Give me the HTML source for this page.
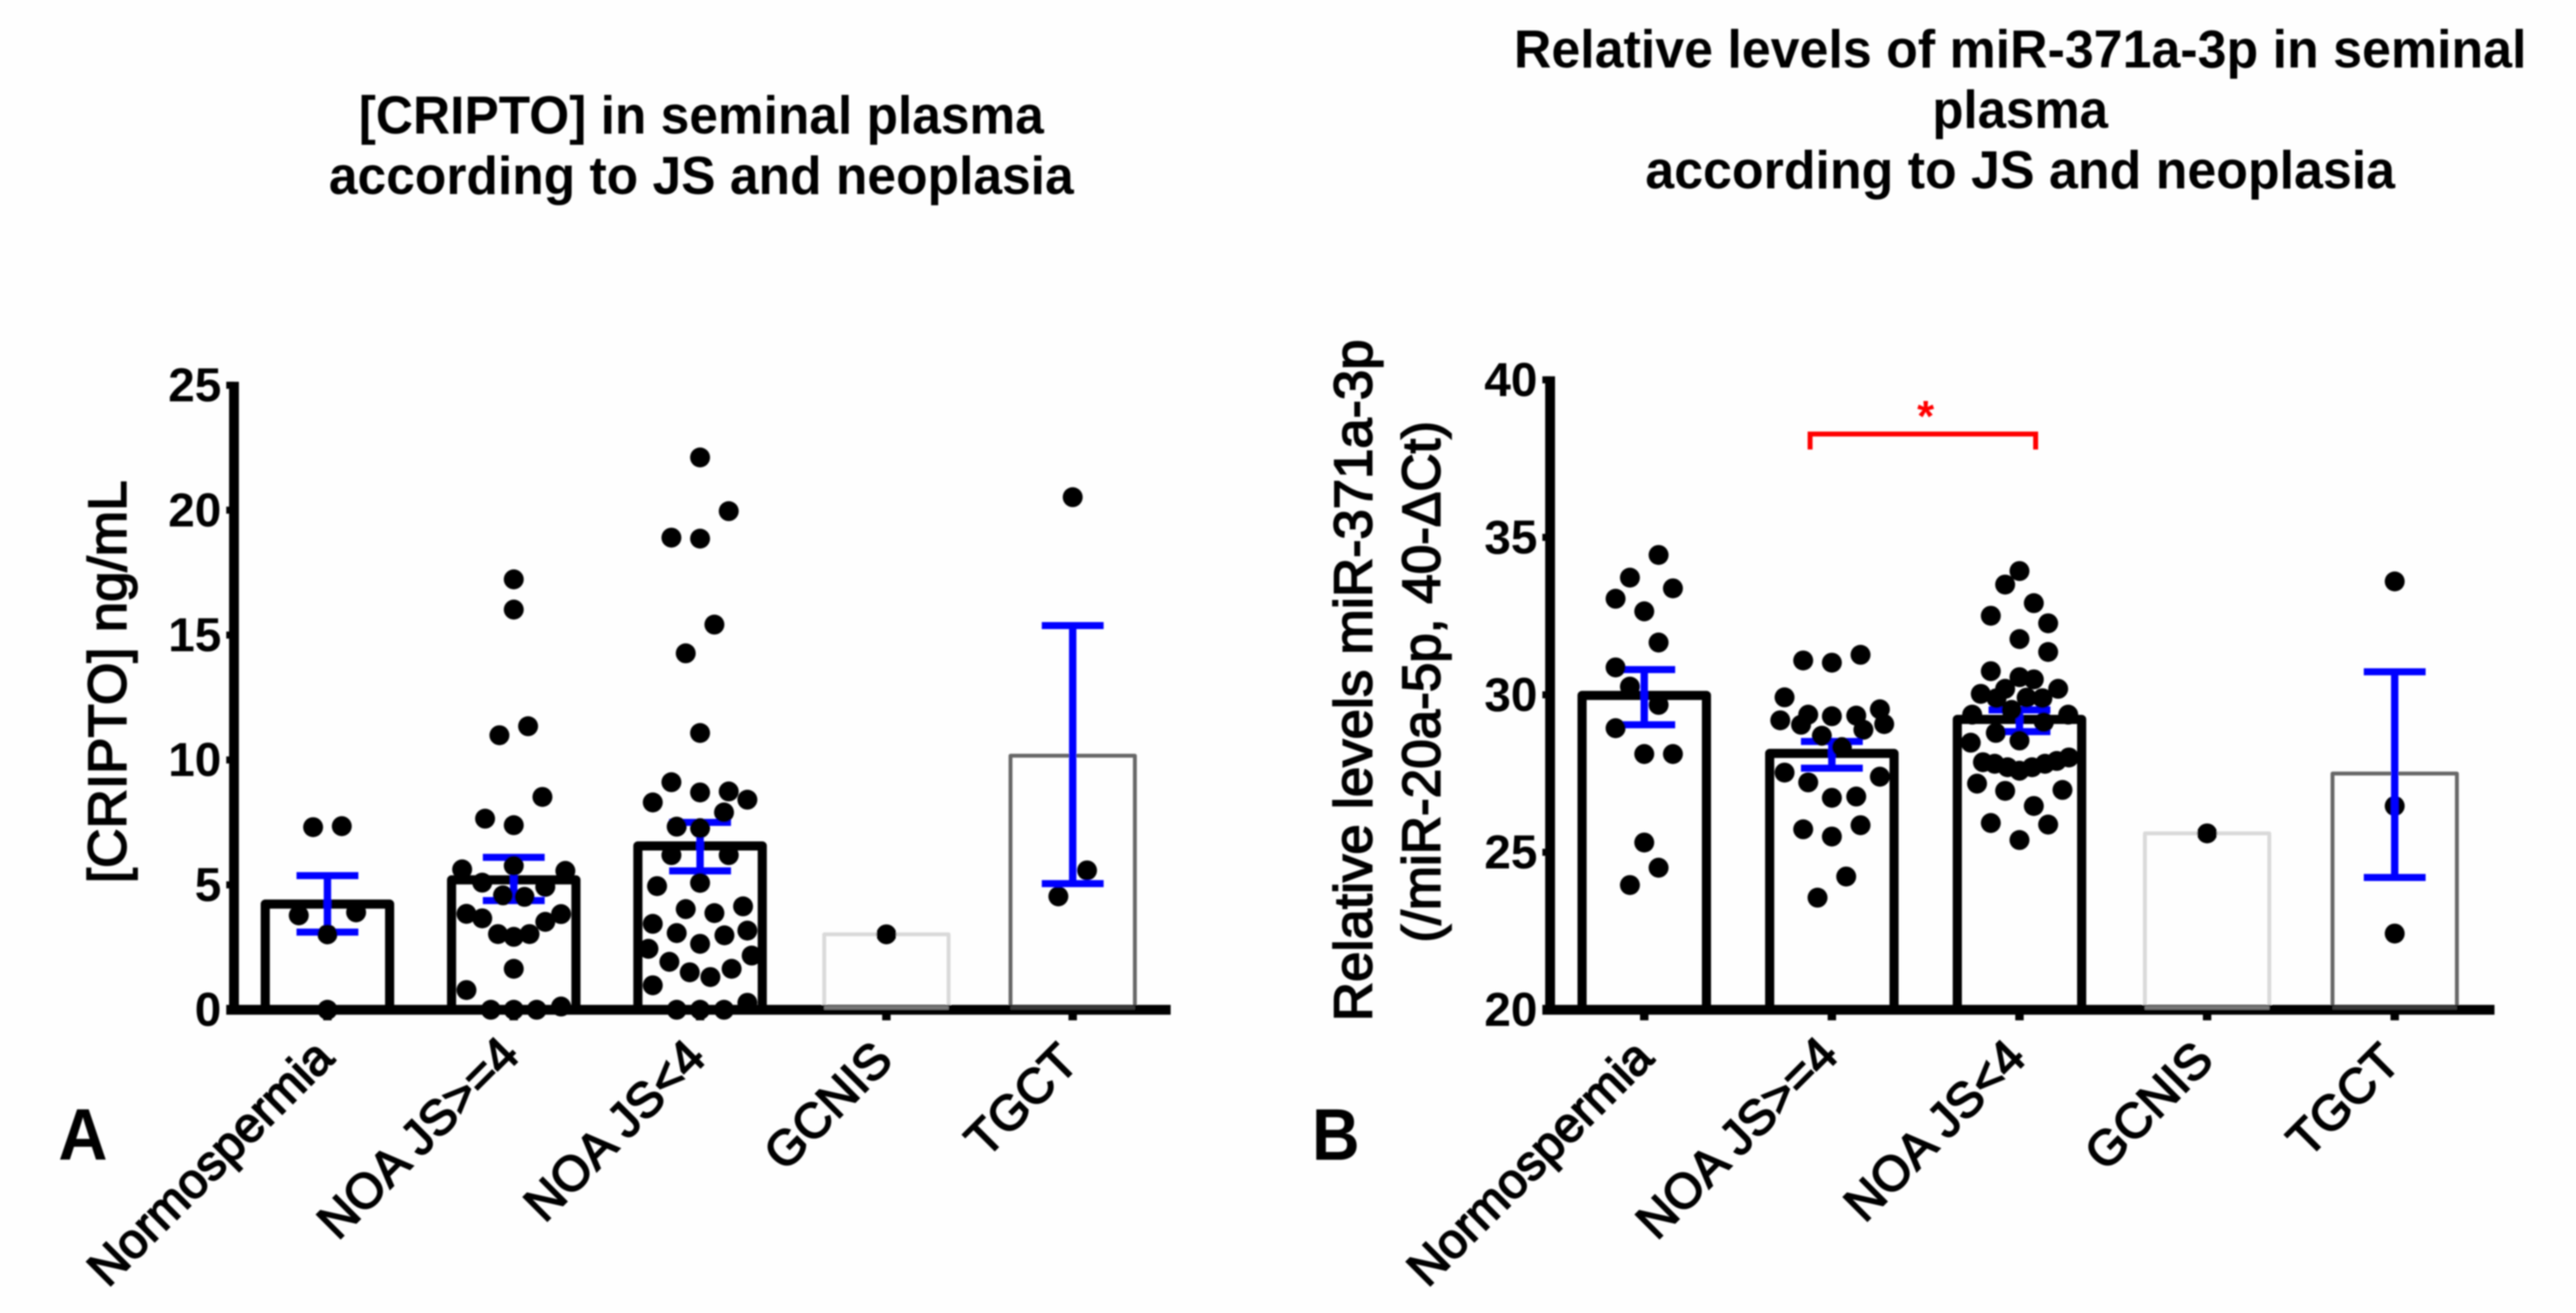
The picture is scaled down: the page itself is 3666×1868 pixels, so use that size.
<!DOCTYPE html>
<html lang="en">
<head>
<meta charset="utf-8">
<title>CRIPTO and miR-371a-3p in seminal plasma</title>
<style>
html,body{margin:0;padding:0;background:#fefefe;}
svg{display:block;}
text{font-family:"Liberation Sans",Arial,sans-serif;fill:#000;}
.title{font-weight:700;font-size:76px;text-anchor:middle;}
.ytitle{font-size:76px;text-anchor:middle;stroke:#000;stroke-width:2.4px;}
.tick{font-weight:700;font-size:68px;text-anchor:end;}
.cat{font-size:70px;text-anchor:end;stroke:#000;stroke-width:2.4px;}
.letter{font-weight:700;font-size:104px;}
</style>
</head>
<body>
<svg id="figure" xmlns="http://www.w3.org/2000/svg" width="3666" height="1868" viewBox="0 0 3666 1868">
<defs><filter id="soft" x="-2%" y="-2%" width="104%" height="104%"><feGaussianBlur stdDeviation="1.1"/></filter></defs>
<rect width="3666" height="1868" fill="#fefefe"/>
<g id="root" filter="url(#soft)">
  <text class="title" x="998" y="190" textLength="975" lengthAdjust="spacingAndGlyphs">[CRIPTO] in seminal plasma</text>
  <text class="title" x="998" y="276" textLength="1060" lengthAdjust="spacingAndGlyphs">according to JS and neoplasia</text>
  <text class="title" x="2875" y="96" textLength="1441" lengthAdjust="spacingAndGlyphs">Relative levels of miR-371a-3p in seminal</text>
  <text class="title" x="2875" y="182" textLength="250" lengthAdjust="spacingAndGlyphs">plasma</text>
  <text class="title" x="2875" y="268" textLength="1067" lengthAdjust="spacingAndGlyphs">according to JS and neoplasia</text>
  <text class="ytitle" transform="translate(179 970) rotate(-90)" textLength="573" lengthAdjust="spacingAndGlyphs">[CRIPTO] ng/mL</text>
  <text class="ytitle" transform="translate(1952 968) rotate(-90)" textLength="970" lengthAdjust="spacingAndGlyphs">Relative levels miR-371a-3p</text>
  <text class="ytitle" transform="translate(2049 970) rotate(-90)" textLength="742" lengthAdjust="spacingAndGlyphs">(/miR-20a-5p, 40-ΔCt)</text>
  <text class="letter" x="83" y="1650" textLength="70" lengthAdjust="spacingAndGlyphs">A</text>
  <text class="letter" x="1867" y="1650" textLength="68" lengthAdjust="spacingAndGlyphs">B</text>
  <g id="chart-a"></g>
  <g id="chart-b"></g>
</g>
</svg>
<script>
// Shared categories
const categories = ["Normospermia", "NOA JS>=4", "NOA JS<4", "GCNIS", "TGCT"];

// Chart A: [CRIPTO] ng/mL
const aTickValues = [0, 5, 10, 15, 20, 25];
const aTickLabels = ["0", "5", "10", "15", "20", "25"];
const aBarValues = [4.23, 5.2, 6.56, 3.02, 10.17];
const aErrorUpper = [5.37, 6.1, 7.5, null, 15.38];
const aErrorLower = [3.11, 4.37, 5.56, null, 5.05];
const aNormoValues = [7.31, 7.35, 3.78, 3.9, 3.02, 0];
const aNormoSwarm = [-1, 1, -2, 2, 0, 0];
const aHighJsValues = [17.23, 16.02, 11.35, 10.99, 8.52, 7.65, 7.39, 5.77, 5.62, 5.56, 5.09, 4.92, 4.58, 4.52, 3.84, 3.66, 3.52, 3.83, 3.03, 2.92, 3.03, 1.64, 0.79, 0, 0, 0, 0.13];
const aHighJsSwarm = [0, 0, 1, -1, 2, -2, 0, 0, -3.6, 3.6, -2.2, 2.2, -0.75, 0.75, -3.3, -2.2, 2.2, 3.3, -1.1, 0, 1.1, 0, -3.3, -1.6, 0, 1.6, 3.3];
const aLowJsValues = [22.11, 18.9, 18.86, 19.96, 15.42, 14.27, 11.08, 9.11, 8.3, 8.7, 8.74, 8.41, 7.9, 7.33, 7.27, 6.19, 6.19, 5.08, 4.95, 4.03, 4.14, 3.87, 3.44, 3.07, 3.17, 2.98, 2.64, 2.44, 2.17, 1.92, 1.64, 1.5, 1.31, 0.98, 0, 0, 0, 0.28];
const aLowJsSwarm = [0, -2, 0, 2, 1, -1, 0, -2, -3.3, 0, 2, 3.3, 1.67, -1.63, 0, -2, 2, 0, -3, -1, 3, 1, -3.3, -1.63, 3.3, 1.7, 0, -3.6, 3.6, -2.14, 2.2, -0.72, 0.72, -3.3, -1.63, 0, 1.67, 3.3];
const aGcnisValues = [3.02];
const aGcnisSwarm = [0];
const aTgctValues = [20.52, 5.58, 4.54];
const aTgctSwarm = [0, 1, -1];

// Chart B: relative levels of miR-371a-3p
const bTickValues = [20, 25, 30, 35, 40];
const bTickLabels = ["20", "25", "30", "35", "40"];
const bBarValues = [29.98, 28.14, 29.22, 25.6, 27.5];
const bErrorUpper = [30.8, 28.52, 29.52, null, 30.73];
const bErrorLower = [29.05, 27.67, 28.83, null, 24.2];
const bNormoValues = [34.44, 33.72, 33.38, 33.05, 32.65, 31.66, 30.87, 30.26, 29.68, 28.94, 28.12, 28.12, 25.31, 24.51, 23.96];
const bNormoSwarm = [1, -1, 2, -2, 0, 1, -2, -1, 1, -2, 0, 2, 0, 1, -1];
const bHighJsValues = [31.27, 31.09, 31.02, 29.92, 29.54, 29.37, 29.32, 29.34, 29.19, 29.05, 29.07, 28.89, 28.7, 28.34, 27.53, 27.4, 27.22, 26.73, 26.77, 25.86, 25.73, 25.5, 24.23, 23.56];
const bHighJsSwarm = [2, -2, 0, -3.3, 3.35, -1.65, 0, 1.7, -3.6, -2.15, 3.65, 2.2, -0.7, 0.7, -3.3, 3.35, -1.65, 0, 1.7, 2, -2, 0, 1, -1];
const bLowJsValues = [33.93, 33.5, 32.91, 32.51, 32.27, 31.77, 31.36, 30.75, 30.56, 30.49, 30.19, 30.19, 30.03, 29.89, 29.91, 29.89, 29.52, 29.37, 29.37, 29.13, 28.79, 28.55, 28.48, 27.86, 27.81, 27.7, 27.59, 27.7, 27.81, 27.9, 28.01, 27.18, 26.95, 26.98, 26.47, 25.93, 25.88, 25.39];
const bLowJsSwarm = [0, -1, 1, -2, 2, 0, 2, -2, 0, 1, -1, 2.7, -2.7, -1.6, 0.5, 1.6, -0.55, -3.3, 3.4, 1.7, -1.65, 0, -3.4, -2.55, -1.73, -0.83, 0, 0.88, 1.78, 2.6, 3.45, -2.96, -1, 3, 1, -2, 2, 0];
const bGcnisValues = [25.6];
const bGcnisSwarm = [0];
const bTgctValues = [33.6, 26.47, 22.42];
const bTgctSwarm = [0, 0, 0];

// Significance bracket (from category index to category index)
const bBracketFrom = 1;
const bBracketTo = 2;
const bBracketValue = 38.28;
const bBracketLabel = "*";

const SVG_NS = "http://www.w3.org/2000/svg";
const BAR_COLORS = ["#000", "#000", "#000", "#d9d9d9", "#666"];
const SLOT_PX = 20.4;

function make(parent, tag, attrs) {
  const el = document.createElementNS(SVG_NS, tag);
  for (const k in attrs) el.setAttribute(k, attrs[k]);
  parent.appendChild(el);
  return el;
}

function slug(s) {
  return s.toLowerCase().replace(">=", "-ge-").replace("<", "-lt-").replace(/\s+/g, "-").replace(/-+/g, "-");
}

function drawChart(g, geo, ticks, tickLabels, bars, upper, lower, dotValues, dotSwarm) {
  const xOf = function (i) { return geo.x0 + geo.step * i; };
  const yOf = function (v) { return geo.y0 - (v - geo.vMin) * geo.unit; };

  // Bars
  bars.forEach(function (v, i) {
    const heavy = i < 3;
    const bar = make(g, "rect", {
      x: xOf(i) - 88.5, y: yOf(v), width: 177, height: geo.y0 - yOf(v),
      fill: "none", stroke: BAR_COLORS[i], "stroke-width": heavy ? 13 : 5.5, "stroke-linejoin": "round"
    });
    
    
  });

  // Axes
  const yAxis = make(g, "line", { x1: geo.axisX, x2: geo.axisX, y1: yOf(ticks[ticks.length - 1]) - 5, y2: geo.y0 + 6.5, stroke: "#000", "stroke-width": 14 });
  
  
  const xAxis = make(g, "line", { x1: geo.axisX - 11, x2: geo.axisEnd, y1: geo.y0, y2: geo.y0, stroke: "#000", "stroke-width": 14 });
  
  

  // Pale bar bases sit on top of the axis
  bars.forEach(function (v, i) {
    if (i < 3) return;
    const base = make(g, "line", { x1: xOf(i) - 88.5, x2: xOf(i) + 88.5, y1: geo.y0 - 3, y2: geo.y0 - 3, stroke: BAR_COLORS[i], "stroke-width": 5.5, opacity: 0.55 });
    
    
  });

  // Y ticks
  ticks.forEach(function (t, i) {
    const mark = make(g, "line", { x1: geo.axisX - 11, x2: geo.axisX, y1: yOf(t), y2: yOf(t), stroke: "#000", "stroke-width": 10 });
    
    
    const label = make(g, "text", { class: "tick", x: geo.axisX - 18, y: yOf(t) + 23 });
    
    
    label.textContent = tickLabels[i];
  });

  // X ticks and labels
  categories.forEach(function (c, i) {
    const mark = make(g, "line", { x1: xOf(i), x2: xOf(i), y1: geo.y0 + 6, y2: geo.y0 + 15, stroke: "#000", "stroke-width": 12 });
    
    
    const ax = xOf(i) + geo.labelDx[i];
    const ay = geo.y0 + geo.labelDy[i];
    const label = make(g, "text", { class: "cat", transform: "translate(" + ax + " " + ay + ") rotate(-45)" });
    
    
    label.textContent = c;
  });

  function drawError(i) {
    if (upper[i] === null) return;
    const eg = make(g, "g", { stroke: "#0000ff", fill: "none" });
    
    
    make(eg, "line", { x1: xOf(i), x2: xOf(i), y1: yOf(upper[i]), y2: yOf(lower[i]), "stroke-width": 10.5 });
    make(eg, "line", { x1: xOf(i) - 44, x2: xOf(i) + 44, y1: yOf(upper[i]), y2: yOf(upper[i]), "stroke-width": 10 });
    make(eg, "line", { x1: xOf(i) - 44, x2: xOf(i) + 44, y1: yOf(lower[i]), y2: yOf(lower[i]), "stroke-width": 10 });
  }

  function drawDots(i) {
    const dg = make(g, "g", { fill: "#000" });
    
    
    dotValues[i].forEach(function (v, j) {
      const dot = make(dg, "circle", { cx: xOf(i) + dotSwarm[i][j] * SLOT_PX, cy: yOf(v), r: 14.2 });
      
      
    });
  }

  categories.forEach(function (c, i) {
    if (i === 4) { drawDots(i); drawError(i); }
    else { drawError(i); drawDots(i); }
  });

  return { xOf: xOf, yOf: yOf };
}

const chartA = drawChart(
  document.getElementById("chart-a"),
  { x0: 466, step: 265.15, y0: 1436.6, unit: 35.54, vMin: 0, axisX: 333, axisEnd: 1666,
    labelDx: [12, 11, 11, 12, 11], labelDy: [72, 68, 72, 75, 78] },
  aTickValues, aTickLabels, aBarValues, aErrorUpper, aErrorLower,
  [aNormoValues, aHighJsValues, aLowJsValues, aGcnisValues, aTgctValues],
  [aNormoSwarm, aHighJsSwarm, aLowJsSwarm, aGcnisSwarm, aTgctSwarm]
);

const chartB = drawChart(
  document.getElementById("chart-b"),
  { x0: 2340, step: 267, y0: 1436.6, unit: 44.81, vMin: 20, axisX: 2206, axisEnd: 3550,
    labelDx: [16, 12, 12, 12, 11], labelDy: [72, 68, 72, 75, 78] },
  bTickValues, bTickLabels, bBarValues, bErrorUpper, bErrorLower,
  [bNormoValues, bHighJsValues, bLowJsValues, bGcnisValues, bTgctValues],
  [bNormoSwarm, bHighJsSwarm, bLowJsSwarm, bGcnisSwarm, bTgctSwarm]
);

// Significance bracket on chart B
const bracketGroup = document.getElementById("chart-b");
const bx1 = chartB.xOf(bBracketFrom) - 31;
const bx2 = chartB.xOf(bBracketTo) + 23;
const by = chartB.yOf(bBracketValue);
const bracket = make(bracketGroup, "path", {
  d: "M" + bx1 + " " + (by + 22) + "V" + by + "H" + bx2 + "V" + (by + 22),
  fill: "none", stroke: "#ff0000", "stroke-width": 7
});


const star = make(bracketGroup, "text", { x: (bx1 + bx2) / 2 + 4, y: by - 4, "text-anchor": "middle", "font-weight": "700", "font-size": "62" });


star.style.fill = "#ff0000";
star.textContent = bBracketLabel;
</script>
</body>
</html>
